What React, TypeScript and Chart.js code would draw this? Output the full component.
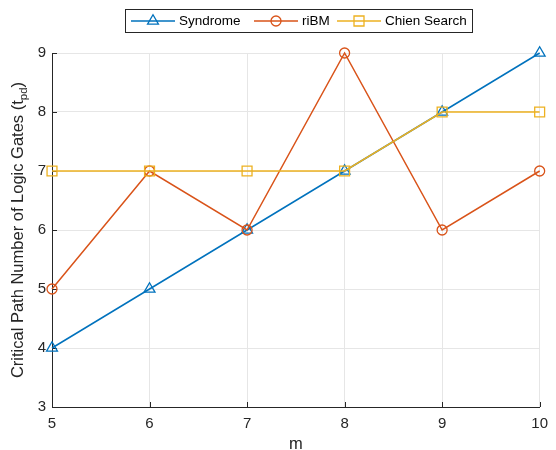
import React, { useEffect, useRef } from "react";
import { Chart, registerables } from "chart.js";
Chart.register(...registerables);

const mValues = [5, 6, 7, 8, 9, 10];
const syndrome = [4, 5, 6, 7, 8, 9];
const riBM = [5, 7, 6, 9, 6, 7];
const chienSearch = [7, 7, 7, 7, 8, 8];
const seriesNames = ["Syndrome", "riBM", "Chien Search"];
const seriesColors = ["#0072BD", "#D95319", "#EDB120"];
const seriesMarkers = ["triangle", "circle", "rect"];
const xTitle = "m";
const yTitleMain = "Critical Path Number of Logic Gates (t";
const yTitleSub = "pd";
const yTitleEnd = ")";

const FONT = '"Liberation Sans", Arial, Helvetica, sans-serif';
const AXIS = "#262626";

function drawMarker(ctx: CanvasRenderingContext2D, style: string, x: number, y: number, color: string) {
  ctx.save();
  ctx.strokeStyle = color;
  ctx.lineWidth = 1.3;
  ctx.beginPath();
  if (style === "triangle") {
    const r = 6.3;
    for (let k = 0; k < 3; k++) {
      const a = (k * 2 * Math.PI) / 3;
      const px = x + Math.sin(a) * r;
      const py = y - Math.cos(a) * r;
      if (k === 0) ctx.moveTo(px, py);
      else ctx.lineTo(px, py);
    }
    ctx.closePath();
  } else if (style === "circle") {
    ctx.arc(x, y, 5, 0, Math.PI * 2);
  } else {
    ctx.rect(x - 5, y - 5, 10, 10);
  }
  ctx.stroke();
  ctx.restore();
}

const overlay = {
  id: "overlay",
  beforeDatasetsDraw(chart: any) {
    const ctx = chart.ctx as CanvasRenderingContext2D;
    const { left, bottom } = chart.chartArea;
    const xs = chart.scales.x;
    const ys = chart.scales.y;
    ctx.save();
    ctx.strokeStyle = AXIS;
    ctx.lineWidth = 1;
    ctx.beginPath();
    for (const v of mValues) {
      const px = Math.round(xs.getPixelForValue(v)) + 0.5;
      ctx.moveTo(px, bottom);
      ctx.lineTo(px, bottom - 5);
    }
    for (let v = 3; v <= 9; v++) {
      const py = Math.round(ys.getPixelForValue(v)) + 0.5;
      ctx.moveTo(left, py);
      ctx.lineTo(left + 5, py);
    }
    ctx.stroke();
    ctx.restore();
  },
  afterDraw(chart: any) {
    const ctx = chart.ctx as CanvasRenderingContext2D;
    const { left, right, top, bottom } = chart.chartArea;
    ctx.save();
    ctx.fillStyle = AXIS;
    // x title
    ctx.font = `16.5px ${FONT}`;
    ctx.textAlign = "center";
    ctx.textBaseline = "alphabetic";
    ctx.fillText(xTitle, (left + right) / 2, 449);
    // y title with subscript
    const mainFont = `16.5px ${FONT}`;
    const subFont = `11.5px ${FONT}`;
    ctx.font = mainFont;
    const w1 = ctx.measureText(yTitleMain).width;
    const w3 = ctx.measureText(yTitleEnd).width;
    ctx.font = subFont;
    const w2 = ctx.measureText(yTitleSub).width;
    const total = w1 + w2 + w3;
    ctx.translate(23, (top + bottom) / 2);
    ctx.rotate(-Math.PI / 2);
    ctx.textAlign = "left";
    ctx.font = mainFont;
    ctx.fillText(yTitleMain, -total / 2, 0);
    ctx.font = subFont;
    ctx.fillText(yTitleSub, -total / 2 + w1, 4);
    ctx.font = mainFont;
    ctx.fillText(yTitleEnd, -total / 2 + w1 + w2, 0);
    ctx.restore();

    // legend
    ctx.save();
    ctx.fillStyle = "#ffffff";
    ctx.fillRect(125, 9, 347, 23);
    ctx.strokeStyle = AXIS;
    ctx.lineWidth = 1;
    ctx.strokeRect(125.5, 9.5, 347, 23);
    const cy = 21;
    const lineStarts = [131, 254, 337];
    const lineLen = 44;
    ctx.font = `13.5px ${FONT}`;
    ctx.textBaseline = "middle";
    ctx.textAlign = "left";
    seriesNames.forEach((name, i) => {
      const x0 = lineStarts[i];
      ctx.strokeStyle = seriesColors[i];
      ctx.lineWidth = 1.5;
      ctx.beginPath();
      ctx.moveTo(x0, cy);
      ctx.lineTo(x0 + lineLen, cy);
      ctx.stroke();
      drawMarker(ctx, seriesMarkers[i], x0 + lineLen / 2, cy, seriesColors[i]);
      ctx.fillStyle = "#000000";
      ctx.fillText(name, x0 + lineLen + 4, cy + 0.5);
    });
    ctx.restore();
  },
};

export default function App() {
  const ref = useRef<HTMLCanvasElement | null>(null);
  useEffect(() => {
    document.body.style.margin = "0";
    if (!ref.current) return;
    const seriesData = [syndrome, riBM, chienSearch];
    const radii = [6.3, 5, 7];
    const chart = new Chart(ref.current, {
      type: "line",
      data: {
        datasets: seriesData.map((vals, i) => ({
          label: seriesNames[i],
          data: mValues.map((x, j) => ({ x, y: vals[j] })),
          borderColor: seriesColors[i],
          backgroundColor: "rgba(0,0,0,0)",
          pointBackgroundColor: "rgba(0,0,0,0)",
          pointBorderColor: seriesColors[i],
          pointStyle: seriesMarkers[i] as any,
          pointRadius: radii[i],
          pointBorderWidth: 1.3,
          borderWidth: 1.5,
          tension: 0,
          clip: false as any,
          order: 3 - i,
        })),
      },
      options: {
        animation: false,
        responsive: false,
        devicePixelRatio: 1,
        layout: { padding: { top: 53, right: 10, left: 0, bottom: 0 } },
        plugins: { legend: { display: false }, tooltip: { enabled: false } },
        scales: {
          x: {
            type: "linear",
            min: 5,
            max: 10,
            ticks: { stepSize: 1, color: AXIS, font: { size: 15, family: FONT }, padding: 8 },
            grid: { color: "#e6e6e6", drawTicks: false, lineWidth: 1 },
            border: { color: AXIS, width: 1 },
            afterFit: (s: any) => {
              s.height = 43;
            },
          },
          y: {
            type: "linear",
            min: 3,
            max: 9,
            ticks: { stepSize: 1, color: AXIS, font: { size: 15, family: FONT }, padding: 6 },
            grid: { color: "#e6e6e6", drawTicks: false, lineWidth: 1 },
            border: { color: AXIS, width: 1 },
            afterFit: (s: any) => {
              s.width = 52;
            },
          },
        },
      },
      plugins: [overlay],
    });
    return () => chart.destroy();
  }, []);
  return (
    <div style={{ width: 556, height: 450 }}>
      <canvas ref={ref} width={556} height={450} style={{ display: "block" }} />
    </div>
  );
}
